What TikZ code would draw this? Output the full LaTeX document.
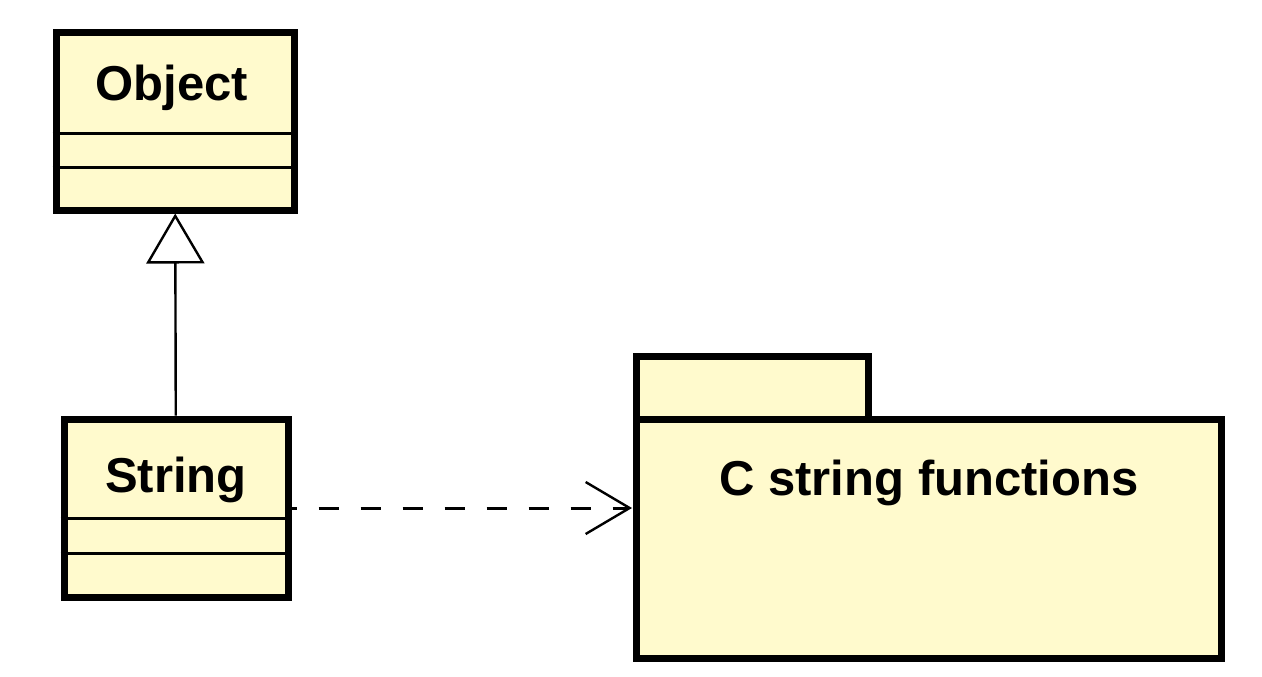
\documentclass[tikz,border=0pt]{standalone}
\usepackage{fontspec}
\setmainfont{Liberation Sans}
\usetikzlibrary{positioning, calc, arrows.meta}
\definecolor{umlyellow}{HTML}{FFFACD}

\begin{document}
\begin{tikzpicture}[x = 0.5pt, y = -0.5pt]

\tikzset{
classbox/.style = {rectangle, draw, line width = 3.5pt, fill = umlyellow,
	minimum height = 89pt, inner sep = 0pt},
pkgbox/.style = {rectangle, draw, line width = 3.5pt, fill = umlyellow,
	inner sep = 0pt, outer sep = 0pt},
classname/.style = {anchor = base, inner sep = 0pt,
	font = \fontsize{24.5}{29}\selectfont\bfseries},
compartment/.style = {line width = 1.5pt},
generalization/.style = {-{Triangle[open, fill = white, length = 25pt, width = 29pt,
	line width = 1.2pt]}, line width = 1.2pt},
dependency/.style = {-{Straight Barb[length = 22pt, width = 26pt, line width = 1.2pt]},
	line width = 1.5pt, dash pattern = on 10pt off 11pt, dash phase = 7.5pt,
	shorten > = 2pt},
}

\useasboundingbox (0, 0) rectangle (1262, 676);

%% Classes
% Object
\node at (175, 121) [classbox, minimum width = 119pt] (Object) {};
\node at (172, 100) [classname] (objname) {Object};
\draw [compartment] ($(Object.north west) + (0, 105)$) -- ($(Object.north east) + (0, 105)$);
\draw [compartment] ($(Object.north west) + (0, 139)$) -- ($(Object.north east) + (0, 139)$);

% String
\node at (176, 508) [classbox, minimum width = 112pt] (String) {};
\node at (176, 492) [classname] (strname) {String};
\draw [compartment] ($(String.north west) + (0, 103)$) -- ($(String.north east) + (0, 103)$);
\draw [compartment] ($(String.north west) + (0, 138)$) -- ($(String.north east) + (0, 138)$);

%% Package
\node at (928.5, 538.5) [pkgbox, minimum width = 292.5pt, minimum height = 119.5pt] (pkg) {};
\node [pkgbox, minimum width = 116pt, minimum height = 31.5pt,
	above right = 0pt and 0pt of pkg.north west] (pkgtab) {};
\node at (929, 495) [classname] (pkgname) {C string functions};

%% Relations
\draw [generalization] (String) -- (Object);
\draw [dependency] (String.east) -- (String.east -| pkg.west);

\end{tikzpicture}
\end{document}
